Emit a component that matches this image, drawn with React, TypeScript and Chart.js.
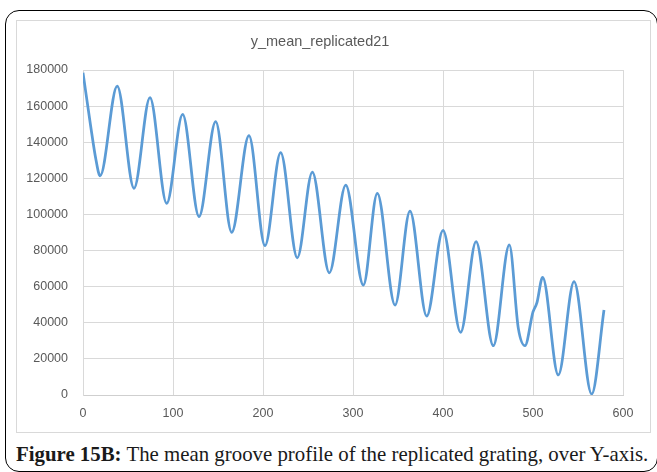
import React, { useEffect, useRef } from "react";
import { Chart, registerables } from "chart.js";

Chart.register(...registerables);

const chartTitle = "y_mean_replicated21";
const xPositions = [
  0, 8.5, 14.5, 19, 38, 56.7, 74.4, 93, 110.7, 128.9, 147.4, 165.2, 184.4, 202.2,
  219.6, 238.1, 254.8, 273.7, 291.9, 311.5, 327, 346.7, 363.3, 381.9, 400, 419.6,
  436.7, 455.9, 473.7, 483.7, 491.1, 500, 504.3, 510.7, 528.1, 545.6, 565.2, 578.9,
];
const yMeanValues = [
  178500, 149000, 130000, 121400, 171100, 114500, 164700, 106100, 155400, 98800,
  151400, 90100, 143600, 82700, 134200, 76000, 123500, 67700, 116300, 60900,
  111700, 49800, 101900, 43700, 91200, 34700, 84900, 27300, 83100, 36900, 27300,
  46000, 51000, 65200, 11100, 62800, 500, 47100,
];
const xTickStep = 100;
const xMax = 600;
const yTickStep = 20000;
const yMax = 180000;

export default function App() {
  const ref = useRef<HTMLCanvasElement>(null);

  useEffect(() => {
    document.body.style.margin = "0";
    const tickFont = { family: "'Liberation Sans', Arial, sans-serif", size: 12.5 };
    const points = xPositions.map((x, i) => ({ x, y: yMeanValues[i] }));
    const chart = new Chart(ref.current!, {
      type: "line",
      data: {
        datasets: [
          {
            label: chartTitle,
            data: points,
            borderColor: "#5b9bd5",
            borderWidth: 2.75,
            pointRadius: 0,
            fill: false,
            cubicInterpolationMode: "monotone",
          },
        ],
      },
      options: {
        animation: false,
        responsive: false,
        layout: { padding: { left: 0, right: 27, top: 0, bottom: 0 } },
        plugins: {
          legend: { display: false },
          tooltip: { enabled: false },
          title: {
            display: true,
            text: chartTitle,
            color: "#595959",
            font: { family: "'Liberation Sans', Arial, sans-serif", size: 14.5, weight: "normal" },
            padding: { top: 12.3, bottom: 19.3 },
          },
        },
        scales: {
          x: {
            type: "linear",
            min: 0,
            max: xMax,
            ticks: {
              stepSize: xTickStep,
              color: "#595959",
              font: tickFont,
              padding: 11,
              maxRotation: 0,
              callback: (v: any) => String(v),
            },
            grid: { color: "#d9d9d9", drawTicks: false },
            border: { color: "#cfcfcf" },
            afterFit: (s: any) => {
              s.height = 37;
            },
          },
          y: {
            min: 0,
            max: yMax,
            ticks: {
              stepSize: yTickStep,
              color: "#595959",
              font: tickFont,
              padding: 15,
              callback: (v: any) => String(v),
            },
            grid: { color: "#d9d9d9", drawTicks: false },
            border: { color: "#d9d9d9" },
            afterFit: (s: any) => {
              s.width = 66;
            },
          },
        },
      },
    });
    return () => chart.destroy();
  }, []);

  return (
    <div style={{ position: "relative", width: 657, height: 472, overflow: "hidden", background: "#fff" }}>
      <div
        style={{
          position: "absolute",
          left: 5,
          top: 10,
          width: 653,
          height: 462,
          border: "1.5px solid #000",
          borderRadius: 14,
          boxSizing: "border-box",
        }}
      />
      <div
        style={{
          position: "absolute",
          left: 16,
          top: 20,
          width: 635,
          height: 413,
          border: "1px solid #d9d9d9",
          boxSizing: "border-box",
        }}
      >
        <canvas ref={ref} width={633} height={411} style={{ display: "block" }} />
      </div>
      <div
        style={{
          position: "absolute",
          left: 16,
          top: 443,
          fontFamily: "'Liberation Serif', 'Times New Roman', serif",
          fontSize: 20.85,
          lineHeight: "22px",
          color: "#1a1a1a",
          whiteSpace: "nowrap",
        }}
      >
        <b>Figure 15B:</b> The mean groove profile of the replicated grating, over Y-axis.
      </div>
    </div>
  );
}
